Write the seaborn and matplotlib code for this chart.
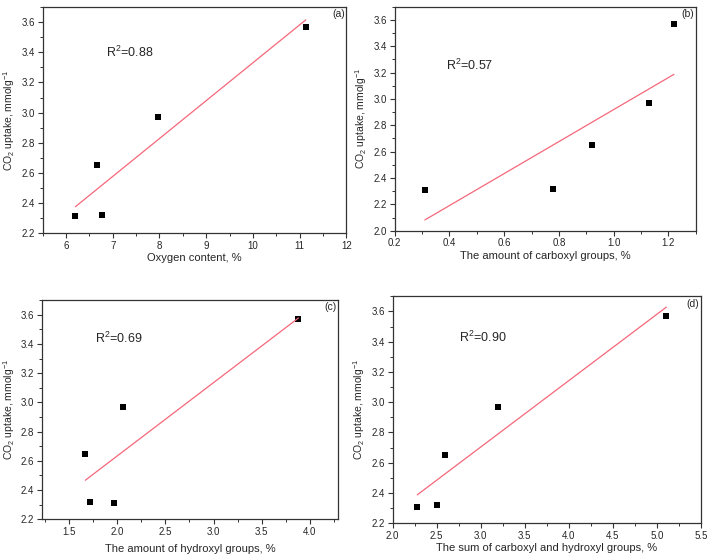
import matplotlib
matplotlib.use('Agg')
import matplotlib.pyplot as plt
import seaborn as sns
from matplotlib.ticker import MultipleLocator, FormatStrFormatter

# CO2 uptake shared by all four panels
co2_uptake = [2.31, 2.65, 2.32, 2.97, 3.57]

# x values per panel (same sample order as co2_uptake)
oxygen = [6.20, 6.67, 6.78, 7.96, 11.13]
carboxyl = [0.31, 0.92, 0.78, 1.13, 1.22]
hydroxyl = [1.97, 1.67, 1.72, 2.06, 3.88]
sum_groups = [2.28, 2.60, 2.50, 3.20, 5.11]

xlabels = ['Oxygen content, %', 'The amount of carboxyl groups, %',
           'The amount of hydroxyl groups, %', 'The sum of carboxyl and hydroxyl groups, %']
r2_labels = ['R$^2$=0.88', 'R$^2$=0.57', 'R$^2$=0.69', 'R$^2$=0.90']
panel_tags = ['(a)', '(b)', '(c)', '(d)']

sns.set_style('ticks')
plt.rcParams['font.family'] = ['Liberation Sans', 'DejaVu Sans']
plt.rcParams['mathtext.default'] = 'regular'

fig = plt.figure(figsize=(7.10, 5.56), dpi=100)
positions = [[0.060, 0.581, 0.428, 0.406],
             [0.556, 0.585, 0.424, 0.403],
             [0.059, 0.066, 0.417, 0.394],
             [0.553, 0.059, 0.434, 0.408]]
xlims = [(5.5, 12), (0.2, 1.3), (1.22, 4.29), (2.0, 5.5)]
ylims = [(2.2, 3.7), (2.0, 3.7), (2.2, 3.7), (2.2, 3.7)]
xmajor = [1, 0.2, 0.5, 0.5]
xfmt = ['%d', '%.1f', '%.1f', '%.1f']
r2_pos = [(0.208, 0.80), (0.17, 0.74), (0.18, 0.826), (0.214, 0.82)]
xlabel_pad = [2, 2, 5, 1.5]

for i, xs in enumerate([oxygen, carboxyl, hydroxyl, sum_groups]):
    ax = fig.add_axes(positions[i])
    sns.regplot(x=xs, y=co2_uptake, ax=ax, ci=None, marker='s', truncate=True,
                scatter_kws={'color': 'black', 's': 22, 'linewidths': 0, 'alpha': 1},
                line_kws={'color': '#f5677a', 'linewidth': 0.9})
    ax.set_xlim(*xlims[i])
    ax.set_ylim(*ylims[i])
    ax.xaxis.set_major_locator(MultipleLocator(xmajor[i]))
    ax.xaxis.set_minor_locator(MultipleLocator(xmajor[i] / 2))
    ax.xaxis.set_major_formatter(FormatStrFormatter(xfmt[i]))
    ax.yaxis.set_major_locator(MultipleLocator(0.2))
    ax.yaxis.set_minor_locator(MultipleLocator(0.1))
    ax.yaxis.set_major_formatter(FormatStrFormatter('%.1f'))
    ax.tick_params(which='major', direction='out', length=3.5, width=0.8,
                   labelsize=7, pad=2, color='#333333')
    ax.tick_params(which='minor', direction='out', length=2, width=0.7, color='#333333')
    for sp in ax.spines.values():
        sp.set_visible(True)
        sp.set_linewidth(0.9)
        sp.set_color('#333333')
    ax.set_xlabel(xlabels[i], fontsize=8, labelpad=xlabel_pad[i])
    ax.set_ylabel('CO$_2$ uptake, mmolg$^{-1}$', fontsize=7.5, labelpad=3)
    ax.text(r2_pos[i][0], r2_pos[i][1], r2_labels[i], transform=ax.transAxes,
            fontsize=9, ha='left', va='center')
    ax.text(0.995, 0.99, panel_tags[i], transform=ax.transAxes,
            fontsize=7.5, ha='right', va='top')

fig.savefig('out.png', dpi=100)
